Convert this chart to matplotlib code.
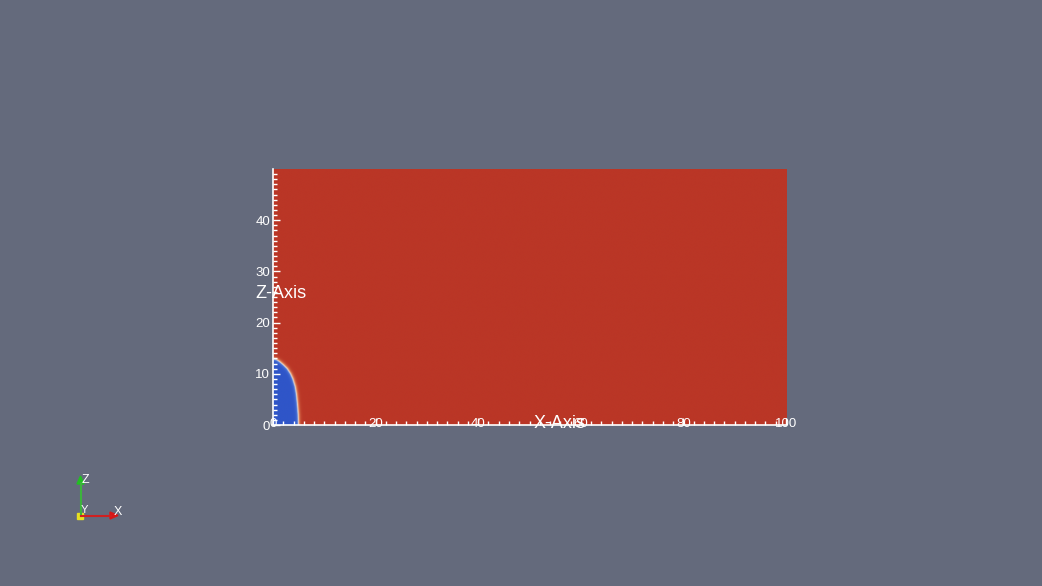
import numpy as np
import matplotlib.pyplot as plt
from matplotlib.colors import LinearSegmentedColormap

# domain extent (x and z, in axis units)
x_range = [0, 100]
z_range = [0, 50]

# interface of the blue region (z -> x)
interface_z = [0, 2, 4, 6, 7.5, 9, 10, 11, 11.7, 12.3, 12.7, 12.9]
interface_x = [4.9, 4.85, 4.7, 4.5, 4.25, 3.8, 3.35, 2.7, 2.0, 1.3, 0.7, 0.0]

x_major = [0, 20, 40, 60, 80, 100]
z_major = [0, 10, 20, 30, 40]

BG = '#646a7c'
FONT = 'Liberation Sans'

# --- build the scalar field from the interface ---
xs = np.linspace(x_range[0], x_range[1], 1001)
zs = np.linspace(z_range[0], z_range[1], 501)
X, Z = np.meshgrid(xs, zs)

# dense polyline along the interface
px, pz = [], []
for i in range(len(interface_x) - 1):
    t = np.linspace(0, 1, 40, endpoint=False)
    px.append(interface_x[i] + t * (interface_x[i + 1] - interface_x[i]))
    pz.append(interface_z[i] + t * (interface_z[i + 1] - interface_z[i]))
px = np.concatenate(px + [[interface_x[-1]]])
pz = np.concatenate(pz + [[interface_z[-1]]])

dist = np.full(X.shape, 50.0)
near = (X < 12) & (Z < 20)
xn, zn = X[near], Z[near]
d = np.sqrt((xn[:, None] - px[None, :]) ** 2 + (zn[:, None] - pz[None, :]) ** 2).min(axis=1)
inside = (zn <= interface_z[-1]) & (xn <= np.interp(zn, interface_z, interface_x))
d[inside] *= -1
dist[near] = d
phi = np.tanh(dist / 0.4)

cmap = LinearSegmentedColormap.from_list('pv', [
    (0.0, '#2f55c8'), (0.3, '#5078d8'), (0.5, '#f2ece2'),
    (0.72, '#e48a5e'), (1.0, '#ba3626')])

fig = plt.figure(figsize=(10.42, 5.86), dpi=100, facecolor=BG)
ax = fig.add_axes([273 / 1042, 161 / 586, 513 / 1042, 256 / 586])
ax.imshow(phi, extent=x_range + z_range, origin='lower', cmap=cmap, vmin=-1, vmax=1,
          interpolation='bilinear', aspect='auto')
ax.set_xlim(x_range)
ax.set_ylim(z_range)

for s in ['top', 'right']:
    ax.spines[s].set_visible(False)
for s in ['left', 'bottom']:
    ax.spines[s].set_color('white')
    ax.spines[s].set_linewidth(1.2)

ax.set_xticks(x_major)
ax.set_xticks(np.arange(0, 101, 2), minor=True)
ax.set_yticks(z_major)
ax.set_yticks(np.arange(0, 50, 1), minor=True)
ax.set_xticklabels([str(v) for v in x_major], fontfamily=FONT, fontsize=9.5, color='white')
ax.set_yticklabels([str(v) for v in z_major], fontfamily=FONT, fontsize=9.5, color='white')
ax.tick_params(axis='both', which='both', direction='in', color='white', width=1)
ax.tick_params(axis='both', which='major', length=5)
ax.tick_params(axis='both', which='minor', length=3)
ax.tick_params(axis='x', which='major', pad=-5)
ax.tick_params(axis='y', which='major', pad=2)

ax.text(1.5, 25.7, 'Z-Axis', fontfamily=FONT, fontsize=13, color='white',
        ha='center', va='center')
ax.text(55.8, 0.3, 'X-Axis', fontfamily=FONT, fontsize=13, color='white',
        ha='center', va='center')

# orientation triad, drawn in pixel coordinates
tri = fig.add_axes([0, 0, 1, 1], facecolor='none')
tri.set_xlim(0, 1042)
tri.set_ylim(586, 0)
tri.axis('off')
tri.plot([80.5, 80.5], [515.5, 483], color='#3cb43c', lw=1.5)
tri.fill([77, 84, 80.5], [484, 484, 476], color='#22c022')
tri.plot([80.5, 111], [515.5, 515.5], color='#d02020', lw=1.5)
tri.fill([110, 110, 118], [512, 519, 515.5], color='#d81818')
tri.fill([77, 83, 83, 77], [513, 513, 518.5, 518.5], color='#e8e020')
tri.text(85.5, 480, 'Z', fontfamily=FONT, fontsize=9, color='white', ha='center', va='center')
tri.text(117.5, 512, 'X', fontfamily=FONT, fontsize=9, color='white', ha='center', va='center')
tri.text(84.5, 510, 'Y', fontfamily=FONT, fontsize=8, color='white', ha='center', va='center')

fig.savefig('out.png', dpi=100, facecolor=BG)
